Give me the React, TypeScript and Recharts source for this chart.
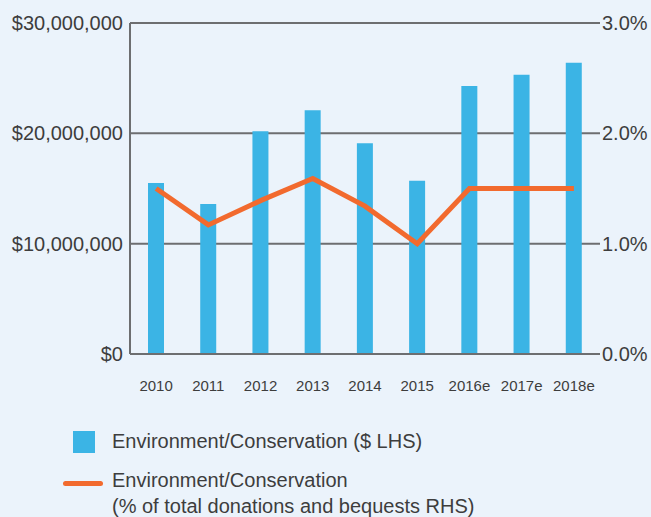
import {
  Bar,
  CartesianGrid,
  ComposedChart,
  Line,
  XAxis,
  YAxis,
} from "recharts";

const years = ["2010", "2011", "2012", "2013", "2014", "2015", "2016e", "2017e", "2018e"];
const dollars = [15.5, 13.6, 20.2, 22.1, 19.1, 15.7, 24.3, 25.3, 26.4].map((m) => m * 1000000);
const percentOfTotal = [1.5, 1.17, 1.39, 1.59, 1.34, 1.0, 1.5, 1.5, 1.5];

const leftTicks = [0, 10000000, 20000000, 30000000];
const rightTicks = [0, 1, 2, 3];

const data = years.map((year, i) => ({
  year,
  dollars: dollars[i],
  pct: percentOfTotal[i],
}));

const BG = "#ebf3fb";
const BLUE = "#3bb4e5";
const ORANGE = "#f26a2e";
const GRID = "#6d6e70";
const TEXT = "#3d3d3d";
const FONT = "'Liberation Sans', Arial, sans-serif";

export default function App() {
  return (
    <div
      style={{
        position: "fixed",
        left: 0,
        top: 0,
        width: 651,
        height: 517,
        background: BG,
        fontFamily: FONT,
        color: TEXT,
        overflow: "hidden",
      }}
    >
      <ComposedChart
        width={651}
        height={517}
        data={data}
        margin={{ top: 23, right: 0, left: 0, bottom: 123 }}
        barCategoryGap={0}
      >
        <CartesianGrid vertical={false} stroke={GRID} strokeWidth={2} yAxisId="left" />
        <XAxis
          dataKey="year"
          height={40}
          tickLine={false}
          axisLine={{ stroke: GRID, strokeWidth: 2 }}
          tickMargin={20}
          interval={0}
          tick={{ fill: TEXT, fontSize: 15, fontFamily: FONT }}
        />
        <YAxis
          yAxisId="left"
          width={130}
          domain={[0, 30000000]}
          ticks={leftTicks}
          tickLine={false}
          tickSize={0}
          axisLine={{ stroke: GRID, strokeWidth: 2 }}
          tickMargin={7}
          tick={{ fill: TEXT, fontSize: 20, fontFamily: FONT }}
          tickFormatter={(v) => `$${Number(v).toLocaleString("en-US")}`}
        />
        <YAxis
          yAxisId="right"
          orientation="right"
          width={51}
          domain={[0, 3]}
          ticks={rightTicks}
          tickLine={false}
          tickSize={0}
          axisLine={false}
          tickMargin={2}
          tick={{ fill: TEXT, fontSize: 20, fontFamily: FONT }}
          tickFormatter={(v) => `${Number(v).toFixed(1)}%`}
        />
        <Bar
          yAxisId="left"
          dataKey="dollars"
          fill={BLUE}
          barSize={16}
          isAnimationActive={false}
        />
        <Line
          yAxisId="right"
          dataKey="pct"
          type="linear"
          stroke={ORANGE}
          strokeWidth={5}
          dot={false}
          isAnimationActive={false}
        />
      </ComposedChart>

      <div style={{ position: "absolute", left: 73, top: 431, width: 22, height: 22, background: BLUE }} />
      <div style={{ position: "absolute", left: 112, top: 429, fontSize: 20, lineHeight: "24px" }}>
        Environment/Conservation ($ LHS)
      </div>
      <div
        style={{
          position: "absolute",
          left: 63,
          top: 481,
          width: 40,
          height: 5,
          borderRadius: 3,
          background: ORANGE,
        }}
      />
      <div style={{ position: "absolute", left: 112, top: 467, fontSize: 20, lineHeight: "26px" }}>
        Environment/Conservation
        <br />
        (% of total donations and bequests RHS)
      </div>
    </div>
  );
}
